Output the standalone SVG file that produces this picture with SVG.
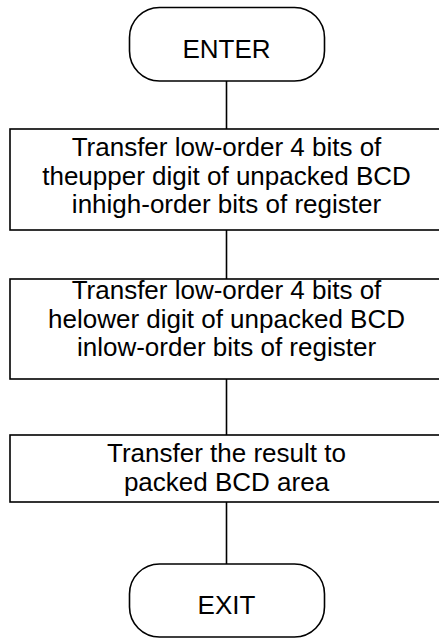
<svg xmlns="http://www.w3.org/2000/svg" width="439" height="638" viewBox="0 0 439 638">
<style>
.s{fill:#fff;stroke:#000;stroke-width:1.6}
.c{stroke:#000;stroke-width:1.6;fill:none}
text{font-family:"Liberation Sans",Arial,sans-serif;font-size:26px;fill:#000;text-anchor:middle}
</style>
<rect width="439" height="638" fill="#fff"/>
<g id="connectors">
<line class="c" x1="226.5" y1="81" x2="226.5" y2="129"/>
<line class="c" x1="226.5" y1="230" x2="226.5" y2="279"/>
<line class="c" x1="226.5" y1="379" x2="226.5" y2="435"/>
<line class="c" x1="226.5" y1="502" x2="226.5" y2="564"/>
</g>
<g id="enter">
<rect class="s" x="129.5" y="7.5" width="195" height="73.5" rx="30" ry="30"/>
<text x="226.5" y="58">ENTER</text>
</g>
<g id="step1">
<rect class="s" x="10" y="129" width="433" height="101"/>
<text x="226.5" y="156">Transfer low-order 4 bits of</text>
<text x="226.5" y="184.5">theupper digit of unpacked BCD</text>
<text x="226.5" y="213">inhigh-order bits of register</text>
</g>
<g id="step2">
<rect class="s" x="10" y="279" width="433" height="100"/>
<text x="226.5" y="299">Transfer low-order 4 bits of</text>
<text x="226.5" y="327.5">helower digit of unpacked BCD</text>
<text x="226.5" y="356">inlow-order bits of register</text>
</g>
<g id="step3">
<rect class="s" x="10" y="435" width="433" height="67"/>
<text x="226.5" y="462">Transfer the result to</text>
<text x="226.5" y="490.5">packed BCD area</text>
</g>
<g id="exit">
<rect class="s" x="129.5" y="564" width="195" height="73" rx="30" ry="30"/>
<text x="226.5" y="614">EXIT</text>
</g>
</svg>
